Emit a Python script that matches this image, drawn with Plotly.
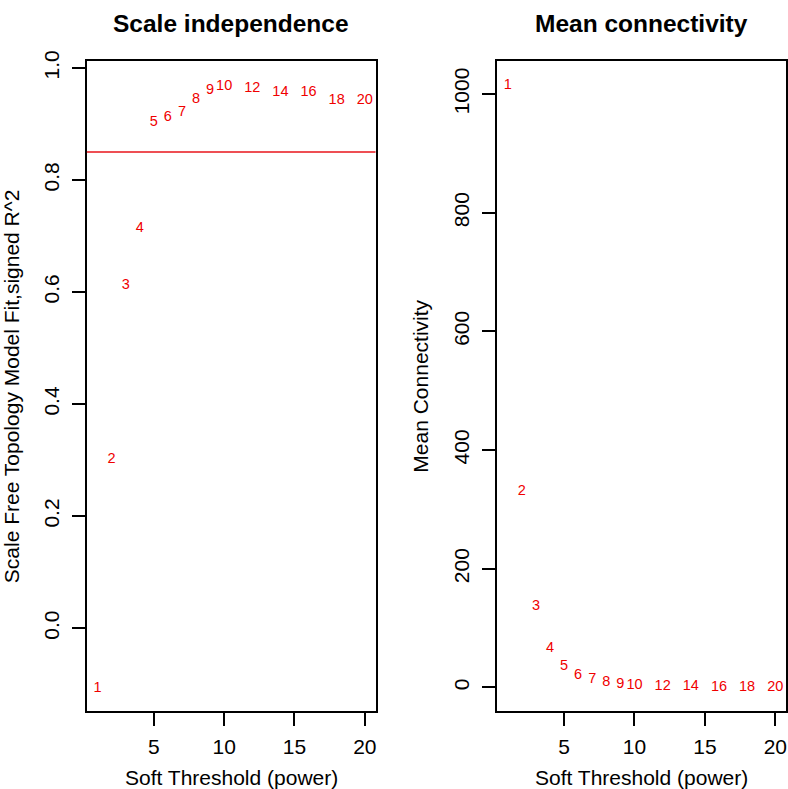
import plotly.graph_objects as go

powers = [1, 2, 3, 4, 5, 6, 7, 8, 9, 10, 12, 14, 16, 18, 20]
sft_r2 = [-0.107, 0.302, 0.612, 0.714, 0.903, 0.912, 0.921, 0.944, 0.960, 0.967,
          0.964, 0.957, 0.956, 0.942, 0.943]
mean_k = [1014, 330, 137, 65, 36, 21, 14, 8, 5.5, 3.3, 1.7, 1.0, 0.5, 0.5, 0.3]
cutoff = 0.85
x_ticks = [5, 10, 15, 20]
y1_ticks = [0.0, 0.2, 0.4, 0.6, 0.8, 1.0]
y2_ticks = [0, 200, 400, 600, 800, 1000]

FONT = "Liberation Sans, Arial, Helvetica, sans-serif"
W, H = 788, 789
labels = [str(p) for p in powers]

fig = go.Figure()
fig.add_trace(go.Scatter(x=powers, y=sft_r2, mode="text", text=labels,
                         textposition="middle center",
                         textfont=dict(family=FONT, size=14.5, color="#F00000"),
                         xaxis="x", yaxis="y", showlegend=False, hoverinfo="skip"))
fig.add_trace(go.Scatter(x=powers, y=mean_k, mode="text", text=labels,
                         textposition="middle center",
                         textfont=dict(family=FONT, size=14.5, color="#F00000"),
                         xaxis="x2", yaxis="y2", showlegend=False, hoverinfo="skip"))

fig.add_shape(type="line", xref="x domain", yref="y", x0=0, x1=1, y0=cutoff, y1=cutoff,
              line=dict(color="#E8141B", width=1.6))

ybot = (H - 710) / H
ytop = (H - 51) / H

axis_common = dict(showline=True, mirror=True, linecolor="black", linewidth=1.5,
                   ticks="outside", ticklen=13, tickwidth=1.5, tickcolor="black",
                   showgrid=False, zeroline=False,
                   tickfont=dict(family=FONT, size=21, color="black"))

fig.update_layout(
    width=W, height=H, margin=dict(l=0, r=0, t=0, b=0),
    paper_bgcolor="white", plot_bgcolor="white", showlegend=False,
    xaxis=dict(domain=[87 / W, 376 / W], range=[0.24, 20.76], tickvals=x_ticks,
               anchor="y", ticklabelstandoff=3, **axis_common),
    yaxis=dict(domain=[ybot, ytop], range=[-0.148, 1.012], tickvals=y1_ticks,
               tickformat=".1f", tickangle=-90, anchor="x", ticklabelstandoff=5,
               **axis_common),
    xaxis2=dict(domain=[497.7 / W, 787 / W], range=[0.24, 20.76], tickvals=x_ticks,
                anchor="y2", ticklabelstandoff=3, **axis_common),
    yaxis2=dict(domain=[ybot, ytop], range=[-39.9, 1055.3], tickvals=y2_ticks,
                tickangle=-90, anchor="x2", ticklabelstandoff=5, **axis_common),
)

def px_ann(text, x, y, size, bold=False, angle=0):
    fig.add_annotation(text=f"<b>{text}</b>" if bold else text,
                       x=x / W, y=1 - y / H, xref="paper", yref="paper",
                       xanchor="center", yanchor="middle", showarrow=False,
                       textangle=angle,
                       font=dict(family=FONT, size=size, color="black"))

px_ann("Scale independence", 231.5, 13, 24.5, bold=True)
px_ann("Mean connectivity", 642.3, 13, 24.5, bold=True)
px_ann("Soft Threshold (power)", 231.5, 777, 21)
px_ann("Soft Threshold (power)", 642.3, 777, 21)
px_ann("Scale Free Topology Model Fit,signed R^2", 11, 380.5, 21, angle=-90)
px_ann("Mean Connectivity", 421, 380.5, 21, angle=-90)

fig.write_html("out.html")
